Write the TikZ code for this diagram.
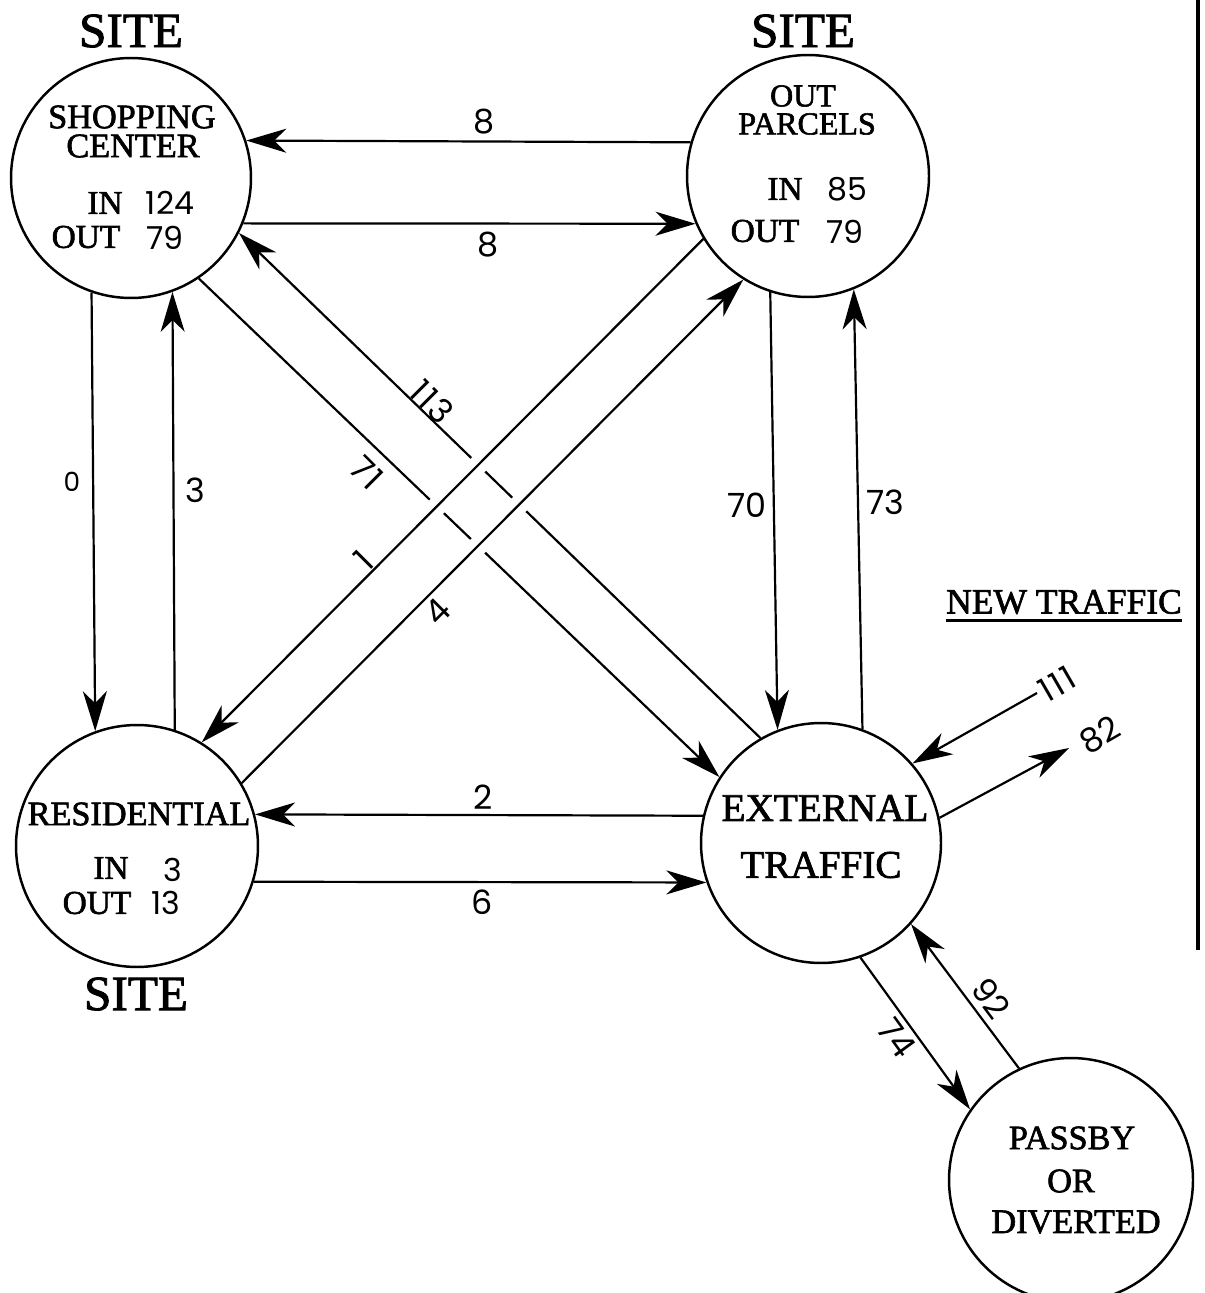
\documentclass[tikz,border=0pt]{standalone}
\usepackage{fontspec}
\usetikzlibrary{arrows.meta}
\newfontfamily\typed{Liberation Serif}[FakeBold=1.8]
\newfontfamily\hand{Poppins}
\tikzset{
  site/.style={circle, draw, line width=1.4pt, inner sep=0pt},
  flow/.style={line width=1.25pt, -{Stealth[length=0.8cm,width=0.48cm,inset=0.24cm]}},
  halo/.style={draw=white, line width=11pt, shorten <=3cm, shorten >=3cm},
  ttl/.style={inner sep=0pt, font=\typed\fontsize{28}{30}\selectfont},
  lbl/.style={inner sep=0pt, font=\typed\fontsize{19.5}{21}\selectfont},
  big/.style={inner sep=0pt, font=\typed\fontsize{22.3}{24}\selectfont},
  num/.style={inner sep=0pt, font=\hand\fontsize{19}{20}\selectfont},
}
\begin{document}
\begin{tikzpicture}[x=0.02cm, y=-0.02cm]
\useasboundingbox (0,0) rectangle (1204,1293);

% circles
\node[site, minimum size=4.8cm]  (SC)  at (131,178) {};
\node[site, minimum size=4.84cm] (OP)  at (808,176) {};
\node[site, minimum size=4.84cm] (RES) at (137,846) {};
\node[site, minimum size=4.8cm]  (ET)  at (821,843) {};
\node[site, minimum size=4.88cm] (PB)  at (1071,1180) {};

% right border line
\coordinate (bt) at (1198,0);
\coordinate (bb) at (1198,950);
\draw[line width=1.8pt] (bt) -- (bb);

% titles
\node[ttl] (site1) at (131,31) {SITE};
\node[ttl] (site2) at (803,31) {SITE};
\node[ttl] (site3) at (136,994) {SITE};

% shopping center text
\node[lbl] (t1) at (132,117) {SHOPPING};
\node[lbl] (t2) at (133,146) {CENTER};
\node[lbl, font=\typed\fontsize{19}{20}\selectfont] (t3) at (105,203) {IN};
\node[num, font=\hand\fontsize{18}{20}\selectfont] (t4) at (170,203) {124};
\node[lbl, font=\typed\fontsize{19}{20}\selectfont] (t5) at (86,237) {OUT};
\node[num, font=\hand\fontsize{18}{20}\selectfont] (t6) at (165,238) {79};

% out parcels text
\node[lbl, font=\typed\fontsize{18.2}{20}\selectfont] (p1) at (803,96) {OUT};
\node[lbl, font=\typed\fontsize{18.2}{20}\selectfont] (p2) at (807,124) {PARCELS};
\node[lbl, font=\typed\fontsize{19}{20}\selectfont] (p3) at (785,189) {IN};
\node[num, font=\hand\fontsize{18}{20}\selectfont] (p4) at (847,189) {85};
\node[lbl, font=\typed\fontsize{19}{20}\selectfont] (p5) at (765,231) {OUT};
\node[num, font=\hand\fontsize{18}{20}\selectfont] (p6) at (845,232) {79};

% residential text
\node[lbl] (r1) at (139,814) {RESIDENTIAL};
\node[lbl, font=\typed\fontsize{19}{20}\selectfont] (r2) at (111,868) {IN};
\node[num, font=\hand\fontsize{18}{20}\selectfont] (r3) at (173,870) {3};
\node[lbl, font=\typed\fontsize{19}{20}\selectfont] (r4) at (97,903) {OUT};
\node[num, font=\hand\fontsize{18}{20}\selectfont] (r5) at (166,903) {13};

% external traffic text
\node[big] (e1) at (825,808) {EXTERNAL};
\node[big] (e2) at (821,865) {TRAFFIC};

% passby text
\node[lbl] (b1) at (1072,1138) {PASSBY};
\node[lbl] (b2) at (1071,1181) {OR};
\node[lbl] (b3) at (1076,1222) {DIVERTED};

% new traffic heading
\node[lbl, font=\typed\fontsize{20.2}{22}\selectfont] (newt) at (1064,602) {NEW TRAFFIC};
\draw[line width=1.6pt] ([yshift=-3.6pt]newt.south west) -- ([yshift=-3.6pt]newt.south east);

% free ends
\coordinate (n111) at (1037,693);
\coordinate (n82) at (1069,748);

% connectors
\draw[flow] (OP.164) -- (SC.18);
\draw[flow] (SC.-22) -- (OP.-157);
\draw[flow] (SC.-109) -- (RES.110);
\draw[flow] (RES.72) -- (SC.-70);
\draw[flow] (OP.-108) -- (ET.111);
\draw[flow] (ET.70) -- (OP.-68);
\draw[flow] (ET.167) -- (RES.15);
\draw[flow] (RES.-17) -- (ET.-161);
\draw[flow] (ET.120) -- (SC.-27);
\draw[flow] (SC.-56) -- (ET.147);
\draw[halo] (OP.-149) -- (RES.58);
\draw[halo] (RES.31) -- (OP.-122);
\draw[flow] (OP.-149) -- (RES.58);
\draw[flow] (RES.31) -- (OP.-122);
\draw[flow] (ET.-71) -- (PB.145);
\draw[flow] (PB.115) -- (ET.-42);
\draw[flow] (n111) -- (ET.41);
\draw[flow] (ET.12) -- (n82);

% connector labels
\node[num] (l8a) at (484,122) {8};
\node[num] (l8b) at (488,245) {8};
\node[num, font=\hand\fontsize{15}{16}\selectfont] (l0) at (72,482) {0};
\node[num] (l3) at (195,490) {3};
\node[num] (l70) at (747,505) {70};
\node[num] (l73) at (885,502) {73};
\node[num] (l2) at (483,797) {2};
\node[num] (l6) at (482,902) {6};
\node[num, rotate=-45] (l113) at (432,402) {1\kern1pt1\kern1pt3};
\node[num, rotate=-45] (l71) at (367,473) {7\kern1pt1};
\node[num, rotate=45] (l1) at (364,560) {1};
\node[num, rotate=45] (l4) at (437,612) {4};
\node[num, rotate=30] (l111) at (1057,684) {1\kern1pt1\kern1pt1};
\node[num, rotate=30] (l82) at (1100,735) {82};
\node[num, rotate=-53] (l92) at (991,998) {92};
\node[num, rotate=-54] (l74) at (897,1038) {74};
\end{tikzpicture}
\end{document}
